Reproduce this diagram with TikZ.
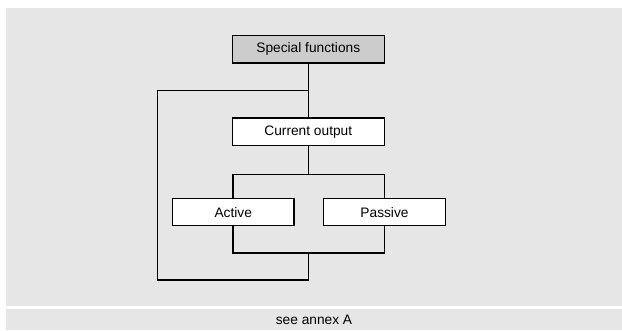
\documentclass[tikz,border=0pt]{standalone}
\usepackage{fontspec}
\setmainfont{Liberation Sans}
\usetikzlibrary{positioning,calc}
\definecolor{panel}{HTML}{E6E6E6}
\definecolor{head}{HTML}{CCCCCC}
\definecolor{ink}{HTML}{000000}
\tikzset{
  every node/.style={font=\fontsize{10.3}{12}\selectfont,text=ink},
  box/.style={draw=ink,line width=1.1pt,fill=white,minimum width=114pt,minimum height=20.5pt,inner sep=2pt},
  headbox/.style={box,fill=head},
  modebox/.style={box,minimum width=91.3pt,minimum height=20.3pt},
  wire/.style={draw=ink,line width=1.1pt},
  caption/.style={anchor=center},
}
\begin{document}
\begin{tikzpicture}[x=0.75pt,y=-0.75pt]
\useasboundingbox (0,0) rectangle (622,330);
% backgrounds
\fill[panel] (6,8) rectangle (622,305.7);
\fill[panel] (6,309) rectangle (622,330);

\node[headbox] (special) at (308.3,49.3) {Special functions};
\node[box,below=40.3pt of special] (current) {Current output};
\node[modebox] (active) at (233.2,212.2) {Active};
\node[modebox] (passive) at (384.5,212.2) {Passive};

% main line and fork
\draw[wire] (special.south) -- (current.north);
\draw[wire] (current.south) -- ++(0,-21pt) coordinate (fork);
\draw[wire] (active.north) |- (passive.north |- fork) -- (passive.north);

% merge below the modes
\draw[wire] (active.south) -- ++(0,-20pt) coordinate (ma) -| (passive.south);
\coordinate (merge) at (current.south |- ma);

% bypass loop
\coordinate (tap) at ($(special.south)!0.5!(current.north)$);
\draw[wire] (tap) -- ++(-113pt,0) |- ([yshift=-20pt]merge) -- (merge);

\node[caption] (note) at (314,319.5) {see annex A};
\end{tikzpicture}
\end{document}
